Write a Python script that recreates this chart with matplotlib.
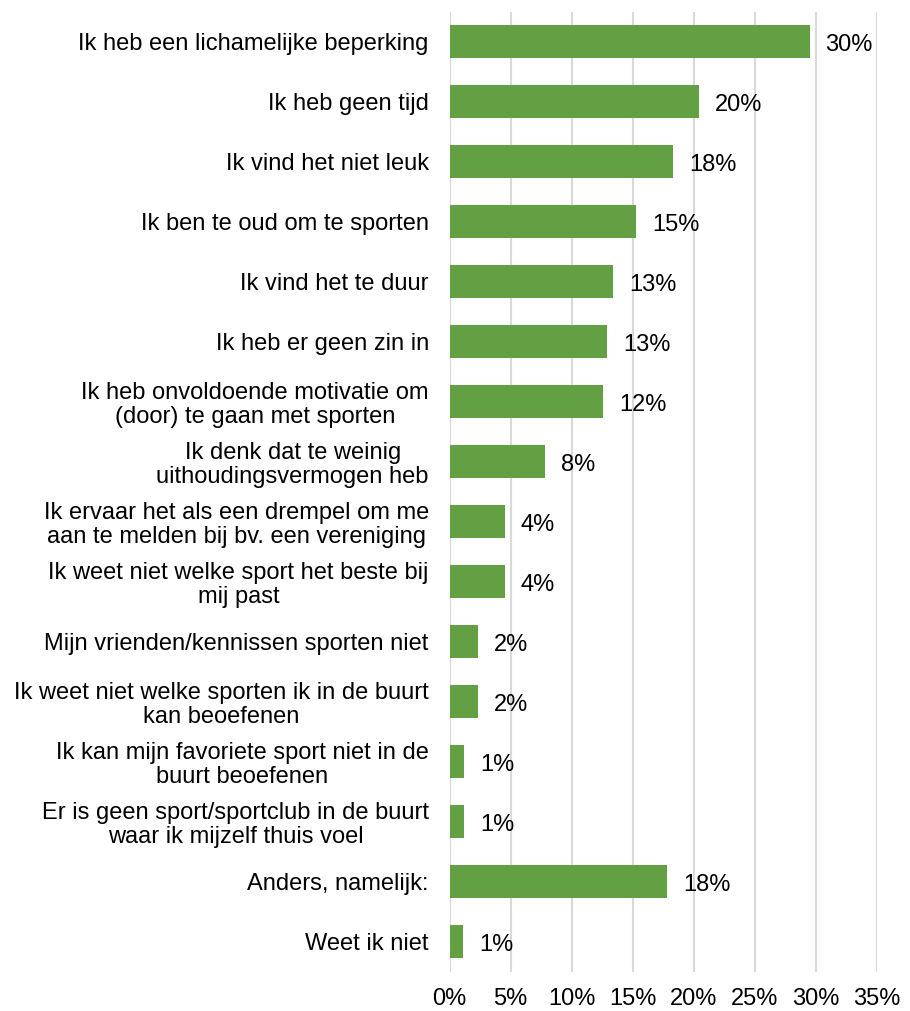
import matplotlib
matplotlib.use("Agg")
import matplotlib.pyplot as plt

categories = [
    "Ik heb een lichamelijke beperking",
    "Ik heb geen tijd",
    "Ik vind het niet leuk",
    "Ik ben te oud om te sporten",
    "Ik vind het te duur",
    "Ik heb er geen zin in",
    "Ik heb onvoldoende motivatie om\n(door) te gaan met sporten",
    "Ik denk dat te weinig\nuithoudingsvermogen heb",
    "Ik ervaar het als een drempel om me\naan te melden bij bv. een vereniging",
    "Ik weet niet welke sport het beste bij\nmij past",
    "Mijn vrienden/kennissen sporten niet",
    "Ik weet niet welke sporten ik in de buurt\nkan beoefenen",
    "Ik kan mijn favoriete sport niet in de\nbuurt beoefenen",
    "Er is geen sport/sportclub in de buurt\nwaar ik mijzelf thuis voel",
    "Anders, namelijk:",
    "Weet ik niet",
]
values = [29.5, 20.4, 18.3, 15.3, 13.4, 12.9, 12.6, 7.8, 4.5, 4.5, 2.3, 2.3, 1.2, 1.2, 17.8, 1.1]
value_labels = ["30%", "20%", "18%", "15%", "13%", "13%", "12%", "8%", "4%", "4%",
                "2%", "2%", "1%", "1%", "18%", "1%"]
xticks = [0, 5, 10, 15, 20, 25, 30, 35]
xtick_labels = ["0%", "5%", "10%", "15%", "20%", "25%", "30%", "35%"]

plt.rcParams['font.family'] = ['Liberation Sans', 'DejaVu Sans']
FS = 17

fig = plt.figure(figsize=(9.10, 10.11), dpi=100)
ax = fig.add_axes([449.7 / 910, 1 - 971.7 / 1011, (876.7 - 449.7) / 910, (971.7 - 11.7) / 1011])

y = list(range(len(categories)))
ax.barh(y, values, height=0.55, color="#63A043", zorder=3)
for yi, v, lab in zip(y, values, value_labels):
    ax.annotate(lab, (v, yi), xytext=(11.5, -2.5), textcoords="offset points",
                ha="left", va="center", fontsize=FS, color="#000000")

ax.set_xlim(0, 35)
ax.set_ylim(len(categories) - 0.5, -0.5)
ax.set_xticks(xticks)
ax.set_xticklabels(xtick_labels, fontsize=FS)
ax.set_yticks(y)
ax.set_yticklabels(categories, fontsize=FS, multialignment="center", linespacing=1.1)
ax.tick_params(axis="both", length=0)
ax.tick_params(axis="x", pad=12)
ax.tick_params(axis="y", pad=15)
ax.grid(axis="x", color="#D9D9D9", linewidth=1.5, zorder=0)
for s in ax.spines.values():
    s.set_visible(False)

fig.savefig("out.png", dpi=100)
